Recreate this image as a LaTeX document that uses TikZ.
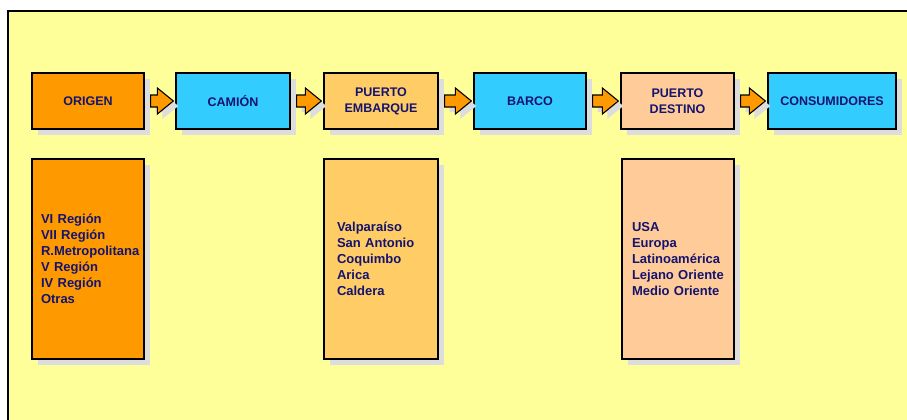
\documentclass[tikz,border=0pt]{standalone}
\usepackage{fontspec}
\setmainfont{Liberation Sans}
\usetikzlibrary{calc,shadows}
\definecolor{bgyellow}{HTML}{FFFF99}
\definecolor{orangebox}{HTML}{FF9900}
\definecolor{bluebox}{HTML}{33CCFF}
\definecolor{lightorange}{HTML}{FFCC66}
\definecolor{peach}{HTML}{FFCC99}
\definecolor{navytext}{RGB}{20,20,110}
\definecolor{shadowgrey}{HTML}{DDDDDD}
\newcommand{\flowarrow}[2]{%
  \draw[flow] ($(#1.east)+(6,-6)$) -- ($(#2.west)+(-18,-6)$) -- ($(#2.west)+(-18,-13)$)
    -- ($(#2.west)+(-2,0)$) -- ($(#2.west)+(-18,13)$) -- ($(#2.west)+(-18,6)$)
    -- ($(#1.east)+(6,6)$) -- cycle;}
\begin{document}
\begin{tikzpicture}[x=1pt,y=-1pt,
  shad/.style={drop shadow={shadow xshift=6pt, shadow yshift=-6pt, fill=shadowgrey, opacity=1}},
  stage/.style={draw=black, line width=1.3pt, shad, minimum height=56pt, inner sep=0pt,
    font=\bfseries\fontsize{12.5}{16}\selectfont, text=navytext, align=center},
  listbox/.style={draw=black, line width=1.3pt, shad, minimum height=200pt, inner ysep=0pt,
    font=\bfseries\fontsize{13}{15.9}\selectfont, text=navytext, align=left},
  flow/.style={draw=black, line width=1.1pt, fill=orangebox, line join=miter,
    drop shadow={shadow xshift=5pt, shadow yshift=-5pt, fill=shadowgrey, opacity=1}}
]
\useasboundingbox (0,0) rectangle (907,420);
\clip (0,0) rectangle (907,420);
\fill[white] (0,0) rectangle (907,420);
\draw[line width=1.3pt, fill=bgyellow] (8,11) rectangle (930,440);

\node[stage, fill=orangebox, minimum width=112pt] (origen) at (88,101) {ORIGEN};
\node[stage, fill=bluebox, minimum width=114pt] (camion) at (233,101) {CAMIÓN};
\node[stage, fill=lightorange, minimum width=114pt] (embarque) at (381,101) {PUERTO\\EMBARQUE};
\node[stage, fill=bluebox, minimum width=112pt] (barco) at (530,101) {BARCO};
\node[stage, fill=peach, minimum width=113pt] (destino) at (677.5,101) {PUERTO\\DESTINO};
\node[stage, fill=bluebox, minimum width=128pt] (consumidores) at (832,101) {CONSUMIDORES};

\flowarrow{origen}{camion}
\flowarrow{camion}{embarque}
\flowarrow{embarque}{barco}
\flowarrow{barco}{destino}
\flowarrow{destino}{consumidores}

\node[listbox, fill=orangebox, text width=94pt, inner xsep=9pt] (origenlist) at (88,259)
  {VI Región\\VII Región\\R.Metropolitana\\V Región\\IV Región\\Otras};
\node[listbox, fill=lightorange, text width=88pt, inner xsep=13pt] (embarquelist) at (381,259)
  {Valparaíso\\San Antonio\\Coquimbo\\Arica\\Caldera};
\node[listbox, fill=peach, text width=92pt, inner xsep=10pt] (destinolist) at (678,259)
  {USA\\Europa\\Latinoamérica\\Lejano Oriente\\Medio Oriente};
\end{tikzpicture}
\end{document}
